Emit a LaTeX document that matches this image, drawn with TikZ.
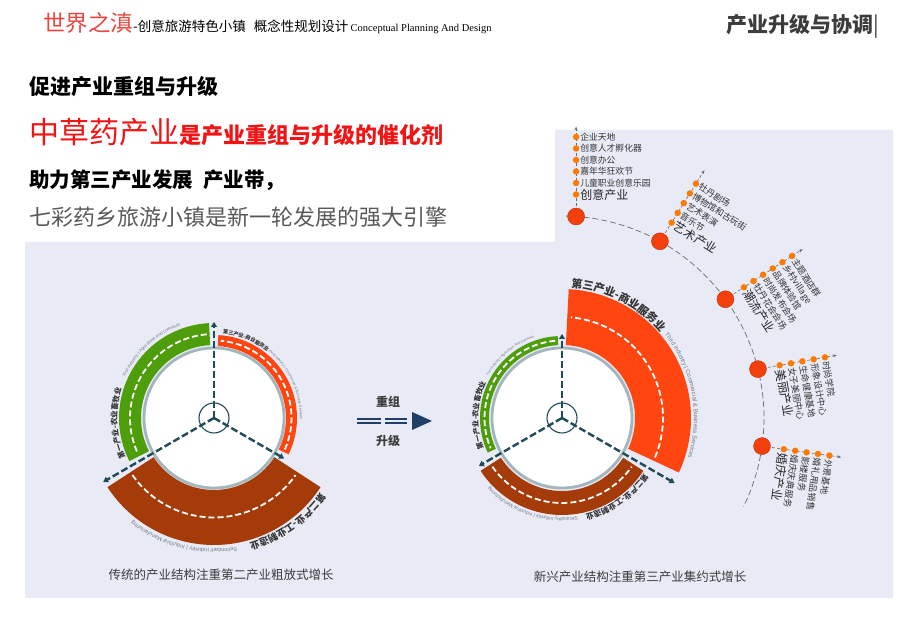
\documentclass[tikz,border=0pt]{standalone}
\usepackage{fontspec}
\setmainfont{Noto Sans CJK SC}
\newfontfamily\enfont{Liberation Sans}
\newfontfamily\enserif{Liberation Serif}
\usetikzlibrary{arrows.meta,decorations.text,positioning}

\definecolor{panelblue}{HTML}{E8EBF6}
\definecolor{indgreen}{HTML}{4E9E0C}
\definecolor{indred}{HTML}{FF4510}
\definecolor{indbrown}{HTML}{A53B08}
\definecolor{axisteal}{HTML}{1E4B57}
\definecolor{ringgray}{HTML}{A3B6BD}
\definecolor{hubred}{HTML}{F23F0C}
\definecolor{dotorange}{HTML}{FF7A00}
\definecolor{brandred}{HTML}{E8453C}
\definecolor{textred}{HTML}{F21414}
\definecolor{navyblue}{HTML}{1F3F66}
\definecolor{titlegray}{HTML}{3C3C3C}
\definecolor{labeldark}{HTML}{333333}
\definecolor{labelgray}{HTML}{6E7B80}

\newcommand\arccn[1]{\bfseries\fontsize{#1}{#1}\selectfont\color{labeldark}}
\newcommand\arcen[1]{\enfont\fontsize{#1}{#1}\selectfont\color{labelgray}}

\tikzset{
  spoke/.style={axisteal, line width=2.4pt, dash pattern=on 7pt off 3pt, -{Triangle[length=5pt,width=6pt]}},
  ring/.style={fill=white, draw=ringgray, line width=2.8pt},
  banddash/.style={white, line width=1.8pt, dash pattern=on 6pt off 3pt},
  hub/.style={circle, fill=hubred, draw=hubred!80!black, minimum size=17pt, inner sep=0pt},
  twig/.style={gray!85!black, line width=0.6pt, dash pattern=on 3pt off 2pt, -{Stealth[length=4pt]}},
  bigarc/.style={gray!85!black, line width=0.7pt, dash pattern=on 6pt off 3pt},
  leaf/.style={circle, fill=dotorange, minimum size=6.5pt, inner sep=0pt},
  leaftext/.style={inner sep=0pt, text=labeldark, font=\fontsize{8.8}{8.8}\selectfont},
  hubtitle/.style={inner sep=0pt, text=black!85, font=\fontsize{12}{12}\selectfont},
  captiontext/.style={inner sep=0pt, text=titlegray, font=\fontsize{12.5}{12.5}\selectfont},
  midlabel/.style={inner sep=0pt, text=titlegray, font=\bfseries\fontsize{12}{12}\selectfont}
}

\begin{document}
\begin{tikzpicture}[x=1pt,y=1pt]
\useasboundingbox (0,0) rectangle (900,636);

% Background panel
\fill[panelblue] (25,38) -- (893,38) -- (893,506) -- (555,506) -- (555,394) -- (25,394) -- cycle;

% Header
\node[anchor=base west, inner sep=0pt] (brand) at (43,604) {{\color{brandred}\fontsize{22.5}{22.5}\selectfont 世界之滇}{\fontsize{13.5}{13.5}\selectfont -创意旅游特色小镇\hspace{0.6em}概念性规划设计} {\enserif\fontsize{10.5}{10.5}\selectfont Conceptual Planning And Design}};
\node[anchor=east, inner sep=0pt, text=titlegray, font=\bfseries\fontsize{21}{21}\selectfont] (pagetitle) at (879,610) {产业升级与协调{\mdseries|}};

% Text block
\node[anchor=west, inner sep=0pt, font=\bfseries\fontsize{21}{21}\selectfont] (line1) at (29,549) {促进产业重组与升级};
\node[anchor=base west, inner sep=0pt, text=textred] (line2) at (29,492) {{\fontsize{30}{30}\selectfont 中草药产业}{\bfseries\fontsize{22}{22}\selectfont 是产业重组与升级的催化剂}};
\node[anchor=west, inner sep=0pt, font=\bfseries\fontsize{20.5}{20.5}\selectfont] (line3) at (29,456) {助力第三产业发展\hspace{0.5em}产业带，};
\node[anchor=west, inner sep=0pt, text=black!65, font=\fontsize{22}{22}\selectfont] (line4) at (29,419) {七彩药乡旅游小镇是新一轮发展的强大引擎};

% Traditional structure
\begin{scope}[shift={(214,218)}]
  \coordinate (lc) at (0,0);
  \draw[ring] (lc) circle[radius=70];
  \foreach \a/\b/\ri/\ro/\c in {93/207/73/95/indgreen, -26/87/72/83/indred, 213/327/72/127/indbrown}{
    \pgfmathsetmacro\rmd{(\ri+\ro)/2}
    \fill[\c] (\a:\ro) arc[start angle=\a, end angle=\b, radius=\ro] -- (\b:\ri) arc[start angle=\b, end angle=\a, radius=\ri] -- cycle;
    \draw[banddash] (\a+2:\rmd) arc[start angle=\a+2, end angle=\b-2, radius=\rmd];
  }
  % Labels along the bands
  \path[decorate, decoration={text along path, text={|\arccn{7.5}|第一产业-农业畜牧业}}] (204:97) arc[start angle=204, end angle=140, radius=97];
  \path[decorate, decoration={text along path, text={|\arcen{4.3}|First Industry {\textbar} Agriculture And Livestock}}] (155:98) arc[start angle=155, end angle=85, radius=98];
  \path[decorate, decoration={text along path, text={|\arccn{5.2}|第三产业-商业服务业}}] (84:85) arc[start angle=84, end angle=30, radius=85];
  \path[decorate, decoration={text along path, text={|\arcen{3.6}|Third Industry {\textbar} Commercial {\&} Business Services}}] (51:86) arc[start angle=51, end angle=-40, radius=86];
  \path[decorate, decoration={text along path, text={|\arccn{9.5}|第二产业-工业制造业}}] (-35:130) arc[start angle=-35, end angle=-100, radius=130];
  \path[decorate, decoration={text along path, text={|\arcen{5.5}|Secondary Industry {\textbar} Industrial Manufacturing}}] (-80:131) arc[start angle=-80, end angle=-175, radius=131];
  % Spokes
  \draw[axisteal, line width=1.1pt] (lc) circle[radius=15];
  \path (90:96) coordinate (la1) (210:128) coordinate (la2) (-30:81) coordinate (la3);
  \foreach \k in {1,2,3} \draw[spoke] (lc) -- (la\k);
\end{scope}

% Upgrade arrow
\node[midlabel] (regroup) at (388,234) {重组};
\node[midlabel] (upgrade) at (388,195) {升级};
\foreach \x/\w in {357/24,385/22} \draw[navyblue, line width=2pt] (\x,217) -- ++(\w,0) (\x,213) -- ++(\w,0);
\fill[navyblue] (412,224) -- (432,215) -- (412,206) -- cycle;

% New structure
\begin{scope}[shift={(562,218)}]
  \coordinate (rc) at (0,0);
  \draw[ring] (rc) circle[radius=70];
  \foreach \a/\b/\ri/\ro/\c in {93/205/73/82/indgreen, -25/87/73/129/indred, 213/327/73/97/indbrown}{
    \pgfmathsetmacro\rmd{(\ri+\ro)/2}
    \fill[\c] (\a:\ro) arc[start angle=\a, end angle=\b, radius=\ro] -- (\b:\ri) arc[start angle=\b, end angle=\a, radius=\ri] -- cycle;
    \draw[banddash] (\a+2:\rmd) arc[start angle=\a+2, end angle=\b-2, radius=\rmd];
  }
  % Labels along the bands
  \path[decorate, decoration={text along path, text={|\arccn{11}|第三产业-商业服务业}}] (86:131) arc[start angle=86, end angle=20, radius=131];
  \path[decorate, decoration={text along path, text={|\arcen{6}|Third Industry {\textbar} Commercial {\&} Business Services}}] (39:132) arc[start angle=39, end angle=-45, radius=132];
  \path[decorate, decoration={text along path, text={|\arccn{7.2}|第一产业-农业畜牧业}}] (201:84) arc[start angle=201, end angle=130, radius=84];
  \path[decorate, decoration={text along path, text={|\arcen{3.4}|First Industry {\textbar} Agriculture And Livestock}}] (150:85) arc[start angle=150, end angle=80, radius=85];
  \path[decorate, decoration={text along path, text={|\arccn{7.8}|第二产业-工业制造业}}] (-34:99) arc[start angle=-34, end angle=-100, radius=99];
  \path[decorate, decoration={text along path, text={|\arcen{4.8}|Secondary Industry {\textbar} Industrial Manufacturing}}] (-81:100) arc[start angle=-81, end angle=-175, radius=100];
  % Spokes
  \draw[axisteal, line width=1.1pt] (rc) circle[radius=15];
  \path (90:84) coordinate (ra1) (210:96) coordinate (ra2) (-30:130) coordinate (ra3);
  \foreach \k in {1,2,3} \draw[spoke] (rc) -- (ra\k);
\end{scope}

% Industry chain
\draw[bigarc] (rc) ++(89:202) arc[start angle=89, end angle=-26, radius=202];
\foreach \b/\pos/\ang/\len/\ttl/\lst in {
  1/86/90/90/创意产业/{儿童职业创意乐园,嘉年华狂欢节,创意办公,创意人才孵化器,企业天地},
  2/61/58/84/艺术产业/{音乐节,艺术表演,博物馆和古玩街,牡丹剧场},
  3/36/33/92/潮流产业/{牡丹花会会场,时尚发布会场,品牌体验馆,乡村village,主题酒店群},
  4/14/10/80/美丽产业/{女子美丽中心,生命健康基地,形象设计中心,时尚学院},
  5/-8/-8/80/婚庆产业/{婚庆庆典服务,影楼服务,婚礼用品销售,外景基地}}{
  \path (rc) ++(\pos:202) coordinate (h\b);
  \path (h\b) ++(\ang:\len) coordinate (tip\b);
  \draw[twig] (h\b) -- (tip\b);
  \node[hub] (hub\b) at (h\b) {};
  \path (h\b) ++(\ang:22) node[leaf] (leaf\b-0) {} ++(\ang-90:4) node[hubtitle, rotate=\ang-90, anchor=west] (title\b) {\ttl};
  \foreach \t [count=\k] in \lst {
    \path (h\b) ++(\ang:{22+11.5*\k}) node[leaf] (leaf\b-\k) {} ++(\ang-90:4) node[leaftext, rotate=\ang-90, anchor=west] (item\b-\k) {\t};
  }
}

% Captions
\node[captiontext] (capL) at (221,61) {传统的产业结构注重第二产业粗放式增长};
\node[captiontext] (capR) at (640,59) {新兴产业结构注重第三产业集约式增长};

\end{tikzpicture}
\end{document}
